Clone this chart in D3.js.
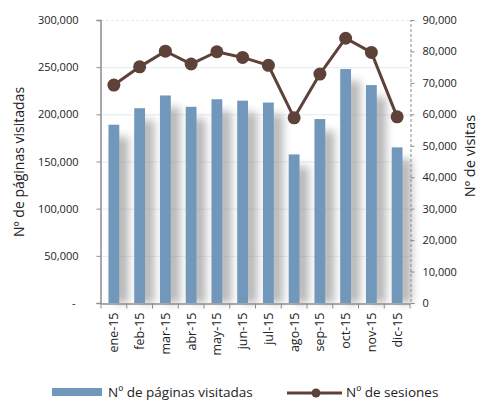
<!DOCTYPE html>
<html><head><meta charset="utf-8">
<script src="https://cdn.jsdelivr.net/npm/d3@7"></script>
<style>body{margin:0;background:#fff}svg{display:block}</style>
</head><body><svg id="c" width="480" height="400"></svg>
<script>
const categories = ["ene-15","feb-15","mar-15","abr-15","may-15","jun-15","jul-15","ago-15","sep-15","oct-15","nov-15","dic-15"];
const paginas = [189000,206500,220000,208000,216000,214500,212500,157500,195000,248000,231000,165000];
const sesiones = [69300,75100,80100,76000,79900,78100,75600,58900,72800,84200,79700,59200];
const leftTicks = [0,50000,100000,150000,200000,250000,300000];
const rightTicks = [0,10000,20000,30000,40000,50000,60000,70000,80000,90000];

const svg = d3.select("#c");
const font = "'Open Sans', sans-serif";
const m = {l:101, r:410, t:20, b:303};
const x = d3.scaleBand().domain(categories).range([m.l, m.r]).paddingInner(0.58).paddingOuter(0.29);
const xb = d3.scaleBand().domain(categories).range([m.l, m.r]);
const yL = d3.scaleLinear().domain([0,300000]).range([m.b, m.t]);
const yR = d3.scaleLinear().domain([0,90000]).range([m.b, m.t]);

const defs = svg.append("defs");
const f = defs.append("filter").attr("id","sh").attr("x","-50%").attr("y","-20%").attr("width","250%").attr("height","140%");
f.append("feGaussianBlur").attr("stdDeviation",4);

// gridlines
svg.append("g").selectAll("line").data(leftTicks.slice(1)).join("line")
  .attr("x1",m.l).attr("x2",m.r).attr("y1",d=>yL(d)+0.5).attr("y2",d=>yL(d)+0.5)
  .attr("stroke","#e3ebf1").attr("stroke-width",1)
  .attr("stroke-dasharray",d=>d===300000?"3,2":null);

// bar shadows
svg.append("g").selectAll("rect").data(paginas).join("rect")
  .attr("x",(d,i)=>x(categories[i])+6).attr("width",x.bandwidth()+3)
  .attr("y",d=>yL(d)+12).attr("height",d=>m.b-yL(d)-12)
  .attr("fill","#8e8e8e").attr("opacity",0.65).attr("filter","url(#sh)");

// bars
svg.append("g").selectAll("rect").data(paginas).join("rect")
  .attr("x",(d,i)=>x(categories[i])).attr("width",x.bandwidth())
  .attr("y",d=>yL(d)).attr("height",d=>m.b-yL(d))
  .attr("fill","#7198bb");

// left axis
const la = svg.append("g").attr("transform",`translate(${m.l-0.5},0)`)
  .call(d3.axisLeft(yL).tickValues(leftTicks).tickSize(4).tickPadding(18)
    .tickFormat(d=>d===0?"-":d3.format(",")(d)));
la.select(".domain").attr("stroke","#8c8c8c").attr("stroke-width",1.5);
la.selectAll(".tick line").attr("stroke","#8c8c8c");
la.selectAll("text").attr("font-family",font).attr("font-size",11).attr("fill","#222");
la.selectAll(".tick text").filter(d=>d===0).attr("dx",-3);

// right axis
const ra = svg.append("g").attr("transform",`translate(${m.r+0.5},0)`)
  .call(d3.axisRight(yR).tickValues(rightTicks).tickSize(4).tickPadding(8).tickFormat(d3.format(",")));
ra.select(".domain").attr("stroke","#8c8c8c").attr("stroke-dasharray","3,2");
ra.selectAll(".tick line").attr("stroke","#8c8c8c");
ra.selectAll("text").attr("font-family",font).attr("font-size",11).attr("fill","#222");

// bottom axis
const ba = svg.append("g").attr("transform",`translate(0,${m.b+0.5})`)
  .call(d3.axisBottom(xb).tickSize(0).tickPadding(0));
ba.select(".domain").attr("stroke","#8c8c8c").attr("stroke-width",1.5);
ba.selectAll(".tick text").attr("font-family",font).attr("font-size",12.5).attr("fill","#222")
  .attr("transform","rotate(-90)").attr("text-anchor","end").attr("x",-9).attr("y",0).attr("dy","0.35em");
ba.append("g").selectAll("line").data(d3.range(categories.length+1)).join("line")
  .attr("x1",i=>m.l+i*xb.step()).attr("x2",i=>m.l+i*xb.step()).attr("y1",0).attr("y2",5)
  .attr("stroke","#8c8c8c");

// line
const line = d3.line().x((d,i)=>xb(categories[i])+xb.bandwidth()/2).y(d=>yR(d));
svg.append("path").datum(sesiones).attr("d",line).attr("fill","none")
  .attr("stroke","#5e4139").attr("stroke-width",3);
svg.append("g").selectAll("circle").data(sesiones).join("circle")
  .attr("cx",(d,i)=>xb(categories[i])+xb.bandwidth()/2).attr("cy",d=>yR(d)).attr("r",6.5)
  .attr("fill","#5e4139");

// axis titles
svg.append("text").attr("transform","translate(24,162) rotate(-90)").attr("text-anchor","middle")
  .attr("font-family",font).attr("font-size",14).attr("fill","#222").text("Nº de páginas visitadas");
svg.append("text").attr("transform","translate(475,156) rotate(-90)").attr("text-anchor","middle")
  .attr("font-family",font).attr("font-size",14.5).attr("fill","#222").text("Nº de visitas");

// legend
const lg = svg.append("g");
lg.append("rect").attr("x",52).attr("y",388).attr("width",50).attr("height",8).attr("fill","#7198bb");
lg.append("text").attr("x",108).attr("y",397).attr("font-family",font).attr("font-size",13.5).attr("fill","#222").text("Nº de páginas visitadas");
lg.append("line").attr("x1",287).attr("x2",342).attr("y1",393).attr("y2",393).attr("stroke","#5e4139").attr("stroke-width",3);
lg.append("circle").attr("cx",316).attr("cy",393).attr("r",4.5).attr("fill","#5e4139");
lg.append("text").attr("x",346).attr("y",397).attr("font-family",font).attr("font-size",13.5).attr("fill","#222").text("Nº de sesiones");
</script></body></html>
